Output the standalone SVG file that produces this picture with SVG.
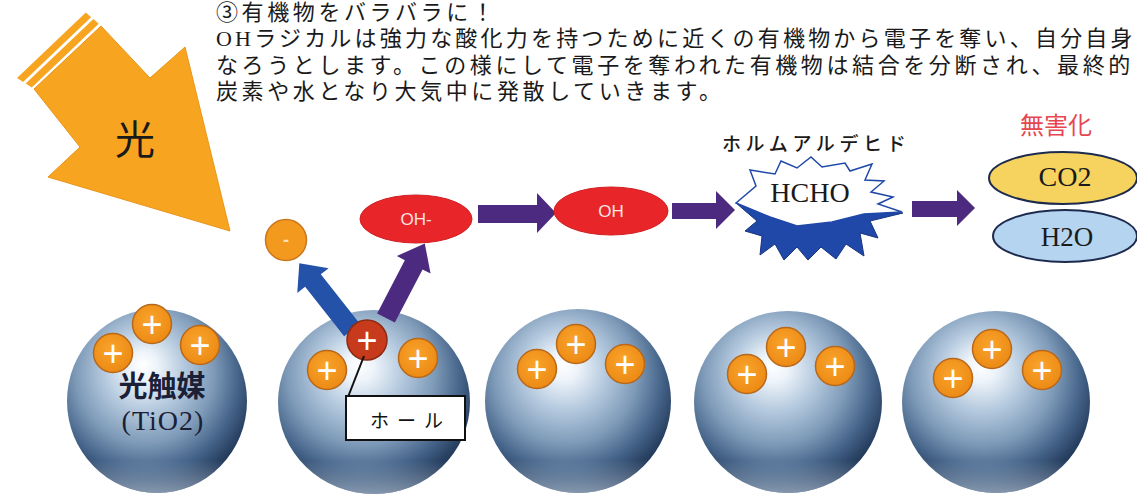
<svg xmlns="http://www.w3.org/2000/svg" width="1137" height="496" viewBox="0 0 1137 496">
  <style>
    .body { font-family: "Liberation Serif", "Noto Sans CJK JP", serif; font-size: 22px; letter-spacing: 3.6px; fill: #1a1a1a; }
    .jp { font-family: "Noto Sans CJK JP", sans-serif; }
    .serif { font-family: "Liberation Serif", "Noto Sans CJK JP", serif; }
    .sphere { fill: url(#sphereShade); }
    .rim { fill: url(#sphereRim); }
    .pos { fill: url(#posFill); stroke: #b8681a; stroke-width: 1.5; }
    .hole { fill: #c73a1c; stroke: #8c2a12; stroke-width: 1.5; }
    .sign { font-family: "Liberation Sans", sans-serif; font-size: 36px; fill: #ffffff; text-anchor: middle; }
    .radical { fill: #e8262a; stroke: #d01f22; stroke-width: 1; }
    .radical-label { font-family: "Liberation Sans", "Noto Sans", sans-serif; font-size: 17px; fill: #fbe3e0; text-anchor: middle; }
    .purple { fill: #4b2a80; }
    .blue { fill: #2452a8; }
    .mol { font-family: "Liberation Serif", serif; fill: #1a1a1a; text-anchor: middle; }
  </style>
  <defs>
    <radialGradient id="sphereShade" cx="0.44" cy="0.38" r="0.64" fx="0.42" fy="0.3">
      <stop offset="0" stop-color="#ffffff"/>
      <stop offset="0.12" stop-color="#eef4fa"/>
      <stop offset="0.35" stop-color="#b4c9de"/>
      <stop offset="0.6" stop-color="#7e9ab8"/>
      <stop offset="0.8" stop-color="#46658a"/>
      <stop offset="1" stop-color="#1d3353"/>
    </radialGradient>
    <linearGradient id="sphereRim" x1="0" y1="0" x2="0" y2="1">
      <stop offset="0.82" stop-color="#d6e4f2" stop-opacity="0"/>
      <stop offset="1" stop-color="#d6e4f2" stop-opacity="0.55"/>
    </linearGradient>
    <radialGradient id="posFill" cx="0.45" cy="0.4" r="0.6">
      <stop offset="0" stop-color="#f9a42c"/>
      <stop offset="1" stop-color="#ec8a14"/>
    </radialGradient>
  </defs>

  <!-- explanatory text block -->
  <g id="caption" class="body">
    <text x="216" y="20">③有機物をバラバラに！</text>
    <text x="216" y="46" letter-spacing="3.2">OHラジカルは強力な酸化力を持つために近くの有機物から電子を奪い、自分自身</text>
    <text x="216" y="72.5">なろうとします。この様にして電子を奪われた有機物は結合を分断され、最終的</text>
    <text x="216" y="99">炭素や水となり大気中に発散していきます。</text>
  </g>

  <!-- incoming light -->
  <g id="light">
    <polygon points="17,78 85.8,12.5 91.1,17.2 23.1,81.9" fill="#f7a520"/>
    <polygon points="25.7,83.5 93.4,19.1 98.7,23.7 31.8,87.4" fill="#f7a520"/>
    <polygon points="34,89 80,147 48,177 230,231 185,47 150,78 101,26" fill="#f7a520" stroke="#e8951a" stroke-width="1"/>
    <text x="135" y="154" class="jp" font-size="40" fill="#1a1a1a" text-anchor="middle">光</text>
  </g>

  <!-- photocatalyst particles -->
  <g id="particle1">
    <ellipse cx="157" cy="401" rx="90" ry="92" class="sphere"/>
    <ellipse cx="157" cy="401" rx="90" ry="92" class="rim"/>
    <circle cx="113" cy="353" r="19.5" class="pos"/><text x="113" y="365.5" class="sign">+</text>
    <circle cx="152" cy="324" r="19.5" class="pos"/><text x="152" y="336.5" class="sign">+</text>
    <circle cx="200" cy="345" r="19.5" class="pos"/><text x="200" y="357.5" class="sign">+</text>
    <text x="162" y="397" class="jp" font-size="29" font-weight="700" fill="#1b2036" text-anchor="middle">光触媒</text>
    <text x="163" y="430" class="serif" font-size="28" letter-spacing="1" fill="#1b2036" text-anchor="middle">(TiO2)</text>
  </g>

  <g id="particle2">
    <ellipse cx="374" cy="402" rx="96" ry="92" class="sphere"/>
    <ellipse cx="374" cy="402" rx="96" ry="92" class="rim"/>
  </g>

  <g id="particle3">
    <ellipse cx="578" cy="401" rx="93" ry="92" class="sphere"/>
    <ellipse cx="578" cy="401" rx="93" ry="92" class="rim"/>
    <circle cx="537" cy="369" r="19.5" class="pos"/><text x="537" y="381.5" class="sign">+</text>
    <circle cx="576" cy="344" r="19.5" class="pos"/><text x="576" y="356.5" class="sign">+</text>
    <circle cx="625" cy="364" r="19.5" class="pos"/><text x="625" y="376.5" class="sign">+</text>
  </g>

  <g id="particle4">
    <ellipse cx="788" cy="402" rx="94" ry="91" class="sphere"/>
    <ellipse cx="788" cy="402" rx="94" ry="91" class="rim"/>
    <circle cx="747" cy="374" r="19.5" class="pos"/><text x="747" y="386.5" class="sign">+</text>
    <circle cx="786" cy="347" r="19.5" class="pos"/><text x="786" y="359.5" class="sign">+</text>
    <circle cx="835" cy="366" r="19.5" class="pos"/><text x="835" y="378.5" class="sign">+</text>
  </g>

  <g id="particle5">
    <ellipse cx="996" cy="402" rx="94" ry="91" class="sphere"/>
    <ellipse cx="996" cy="402" rx="94" ry="91" class="rim"/>
    <circle cx="953" cy="378" r="19.5" class="pos"/><text x="953" y="390.5" class="sign">+</text>
    <circle cx="992" cy="349" r="19.5" class="pos"/><text x="992" y="361.5" class="sign">+</text>
    <circle cx="1042" cy="370" r="19.5" class="pos"/><text x="1042" y="382.5" class="sign">+</text>
  </g>

  <!-- reaction arrows -->
  <g id="connectors">
    <polygon class="blue" points="0,-10 63,-10 63,-20 85,0 63,20 63,10 0,10" transform="translate(352,330) rotate(-128.3)"/>
    <polygon class="purple" points="0,-10 60,-10 60,-19 84,0 60,19 60,10 0,10" transform="translate(386,318) rotate(-62.5)"/>
    <polygon class="purple" points="478,205 537,205 537,193 556,213 537,233 537,223 478,223"/>
    <polygon class="purple" points="672,203 716,203 716,191 735,210 716,229 716,219 672,219"/>
    <polygon class="purple" points="912,201 957,201 957,190 975,208 957,226 957,217 912,217"/>
  </g>

  <!-- surface charges on particle 2 (drawn over the arrow tails) -->
  <g id="hole">
    <circle cx="327" cy="370" r="19.5" class="pos"/><text x="327" y="382.5" class="sign">+</text>
    <circle cx="418" cy="358" r="19.5" class="pos"/><text x="418" y="370.5" class="sign">+</text>
    <circle cx="367" cy="340" r="20" class="hole"/><text x="367" y="352.5" class="sign">+</text>
    <line x1="364" y1="356" x2="348" y2="397" stroke="#111" stroke-width="2"/>
    <rect x="346" y="396" width="119" height="44" fill="#ffffff" stroke="#111" stroke-width="2"/>
    <text x="370" y="428" class="jp" font-size="19" letter-spacing="8" fill="#111">ホール</text>
  </g>

  <g id="electron">
    <circle cx="286" cy="240" r="20.5" fill="#f39a1e" stroke="#c9761c" stroke-width="1.5"/>
    <text x="286" y="246" font-family="Liberation Sans, sans-serif" font-size="18" font-weight="bold" fill="#fde2b4" text-anchor="middle">-</text>
  </g>

  <g id="hydroxide">
    <ellipse cx="416" cy="219" rx="56" ry="24" class="radical"/>
    <text x="416" y="225" class="radical-label">OH-</text>
  </g>

  <g id="radical">
    <ellipse cx="611" cy="211" rx="57" ry="24" class="radical"/>
    <text x="611" y="217" class="radical-label">OH</text>
  </g>

  <g id="formaldehyde">
    <text x="722" y="151" class="jp" font-size="19" font-weight="500" letter-spacing="4.6" fill="#1a1a1a">ホルムアルデヒド</text>
    <polygon points="736,203 762,210 790,214 830,209 864,212 903,213 870,221 878,238 860,233 864,256 846,244 836,259 821,247 808,260 797,247 784,260 775,244 760,255 762,236 745,231 757,221" fill="#1f48a8" stroke="#17347e" stroke-width="1"/>
    <polygon points="736,203 756,186 750,170 775,174 781,161 797,168 811,157 822,167 845,163 850,171 872,164 865,180 884,181 871,192 893,197 878,204 902,212 864,214 832,222 797,226 770,217" fill="#ffffff" stroke="#1f48a8" stroke-width="1.5" stroke-linejoin="miter"/>
    <text x="810" y="202" class="mol" font-size="28">HCHO</text>
  </g>

  <g id="harmless">
    <text x="1020" y="134" class="jp" font-size="24" fill="#e6464f">無害化</text>
    <ellipse cx="1063" cy="178" rx="74" ry="26" fill="#f5d35e" stroke="#1c2a4e" stroke-width="2"/>
    <text x="1065" y="186" class="mol" font-size="28">CO2</text>
    <ellipse cx="1065" cy="236" rx="72" ry="26" fill="#b5d4f0" stroke="#1c2a4e" stroke-width="2"/>
    <text x="1067" y="246" class="mol" font-size="27">H2O</text>
  </g>
</svg>
